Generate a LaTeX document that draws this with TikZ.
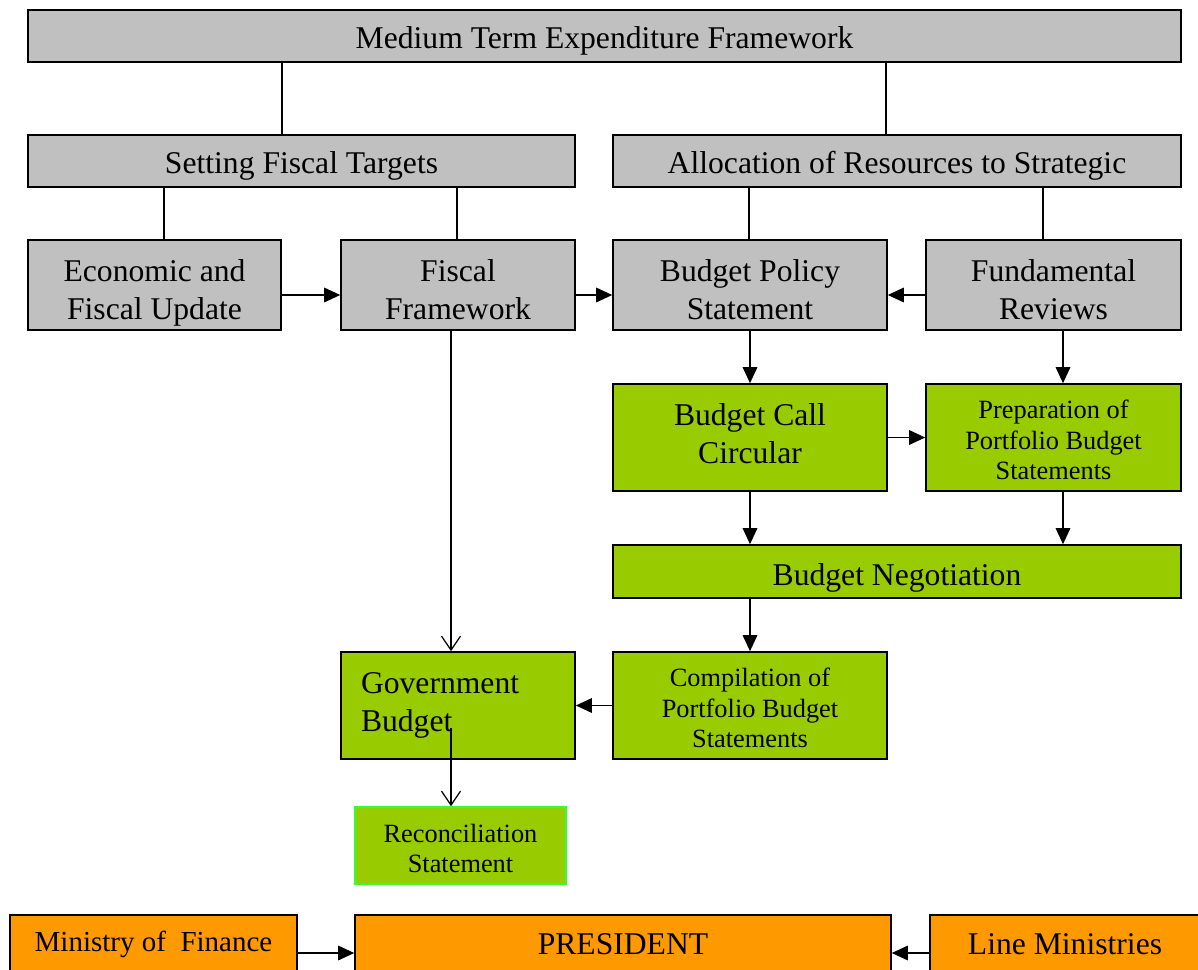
\documentclass[tikz,border=0pt]{standalone}
\usepackage{fontspec}
\setmainfont{Liberation Serif}
\usetikzlibrary{arrows.meta,positioning,calc}
\definecolor{gris}{HTML}{C0C0C0}
\definecolor{vert}{HTML}{99CC00}
\definecolor{orangeB}{HTML}{FF9900}
\definecolor{vertvif}{HTML}{33FF33}
\newcommand{\gros}{\fontsize{18}{21.5}\selectfont}
\newcommand{\moyen}{\fontsize{16.5}{20}\selectfont}
\newcommand{\petit}{\fontsize{15}{17.4}\selectfont}
\newcommand{\bas}[1]{\rule{0pt}{#1}}
\newcommand{\haut}[1]{\rule[-#1]{0pt}{0pt}}
\tikzset{
  boite/.style={rectangle, draw=black, line width=0.9pt, fill=#1, align=center, inner sep=0pt},
  fl/.style={-{Triangle[length=3.2mm,width=2.9mm]}, line width=0.9pt},
  flo/.style={-{Straight Barb[length=2.8mm,width=3.8mm]}, line width=0.7pt},
  lien/.style={line width=0.9pt},
}
\begin{document}
\begin{tikzpicture}
   \useasboundingbox (0,0) rectangle (23.96,-19.4);
   \clip (0,0) rectangle (23.96,-19.4);
   % planning (gris)
   \node[boite=gris, minimum width=23.06cm, minimum height=1.04cm, font=\gros] (mtef) at (12.09,-0.72){\bas{18pt}Medium Term Expenditure Framework};
   \node[boite=gris, minimum width=10.94cm, minimum height=1.04cm, font=\gros] (set) at (6.03,-3.22){\bas{18pt}Setting Fiscal Targets};
   \node[boite=gris, minimum width=11.36cm, minimum height=1.04cm, font=\gros] (alloc) at (17.94,-3.22){\bas{18pt}Allocation of Resources to Strategic};
   \node[boite=gris, minimum width=5.06cm, minimum height=1.8cm, font=\gros] (eco) at (3.09,-5.7){\bas{21.4pt}Economic and\\Fiscal Update};
   \node[boite=gris, minimum width=4.68cm, minimum height=1.8cm, font=\gros] (ff) at (9.16,-5.7){\bas{18pt}Fiscal\\Framework};
   \node[boite=gris, minimum width=5.48cm, minimum height=1.8cm, font=\gros] (bps) at (15.0,-5.7){\bas{18pt}Budget Policy\\Statement};
   \node[boite=gris, minimum width=5.1cm, minimum height=1.8cm, font=\gros] (fund) at (21.07,-5.7){\bas{18pt}Fundamental\\Reviews};
   % preparation (vert)
   \node[boite=vert, minimum width=5.48cm, minimum height=2.14cm, font=\gros] (bcc) at (15.0,-8.75){Budget Call\\Circular\haut{4.6pt}};
   \node[boite=vert, minimum width=5.1cm, minimum height=2.14cm, font=\petit] (prep) at (21.07,-8.75){\bas{13.6pt}Preparation of\\Portfolio Budget\\Statements};
   \node[boite=vert, minimum width=11.36cm, minimum height=1.06cm, font=\gros] (neg) at (17.94,-11.43){\bas{20.3pt}Budget Negotiation};
   \node[boite=vert, minimum width=5.48cm, minimum height=2.14cm, font=\petit] (comp) at (15.0,-14.11){\bas{13.6pt}Compilation of\\Portfolio Budget\\Statements};
   \node[boite=vert, minimum width=4.68cm, minimum height=2.14cm, font=\gros, align=left, text width=3.88cm, inner xsep=0.4cm] (gov) at (9.16,-14.11){Government\\Budget};
   \node[boite=vert, draw=vertvif, minimum width=4.22cm, minimum height=1.54cm, font=\petit] (rec) at (9.21,-16.91){\bas{13.6pt}Reconciliation\\Statement};
   % acteurs (orange)
   \node[boite=orangeB, minimum width=5.74cm, minimum height=1.16cm, font=\moyen] (mof) at (3.07,-18.88){Ministry of~ Finance};
   \node[boite=orangeB, minimum width=10.72cm, minimum height=1.16cm, font=\gros] (pres) at (12.46,-18.88){PRESIDENT};
   \node[boite=orangeB, minimum width=5.4cm, minimum height=1.16cm, font=\gros] (lm) at (21.3,-18.88){Line Ministries};
   % abscisses des liens
   \coordinate (x1) at (5.64,0); \coordinate (x2) at (17.72,0);
   \coordinate (x3) at (3.28,0); \coordinate (x4) at (9.14,0);
   \coordinate (x5) at (14.98,0); \coordinate (x6) at (20.86,0);
   \coordinate (xd) at (21.26,0); \coordinate (xg) at (9.02,0);
   \coordinate (gb) at (9.02,-14.56);
   \draw[lien](mtef.south -| x1)--(set.north -| x1); \draw[lien](mtef.south -| x2)--(alloc.north -| x2);
   \draw[lien](set.south -| x3)--(eco.north -| x3); \draw[lien](set.south -| x4)--(ff.north -| x4);
   \draw[lien](alloc.south -| x5)--(bps.north -| x5); \draw[lien](alloc.south -| x6)--(fund.north -| x6);
   \draw[fl]([yshift=-2mm]eco.east)--([yshift=-2mm]ff.west);
   \draw[fl]([yshift=-2mm]ff.east)--([yshift=-2mm]bps.west);
   \draw[fl]([yshift=-2mm]fund.west)--([yshift=-2mm]bps.east);
   \draw[fl](bps.south)--(bcc.north); \draw[fl](fund.south -| xd)--(prep.north -| xd);
   \draw[fl](bcc.east)--(prep.west);
   \draw[fl](bcc.south)--(neg.north -| bcc.south); \draw[fl](prep.south -| xd)--(neg.north -| xd);
   \draw[fl](neg.south -| comp.north)--(comp.north);
   \draw[fl](comp.west)--(gov.east);
   \draw[flo](ff.south -| xg)--(gov.north -| xg);
   \draw[flo](gb)--(rec.north -| gb);
   \draw[fl]([yshift=-1.8mm]mof.east)--([yshift=-1.8mm]pres.west);
   \draw[fl]([yshift=-1.8mm]lm.west)--([yshift=-1.8mm]pres.east);
\end{tikzpicture}
\end{document}
